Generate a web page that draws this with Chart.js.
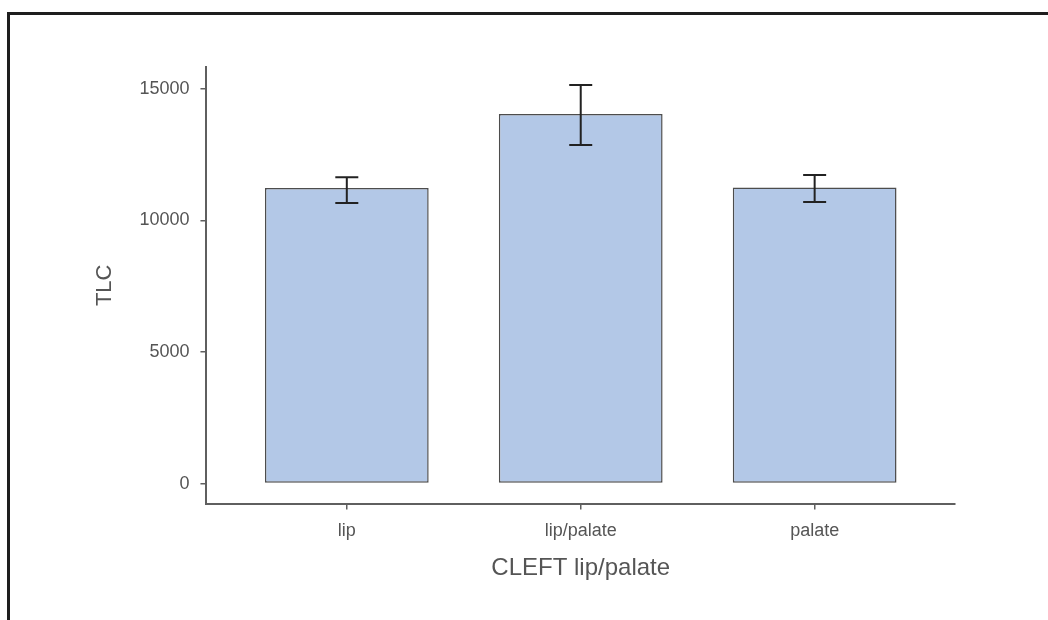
<!DOCTYPE html>
<html>
<head>
<meta charset="utf-8">
<script src="https://cdn.jsdelivr.net/npm/chart.js@4.4.1/dist/chart.umd.min.js"></script>
<style>
  html, body { margin: 0; padding: 0; background: #ffffff; }
  #wrap { position: relative; width: 1048px; height: 620px; }
  #frame { position: absolute; left: 7px; top: 12px; right: 0; bottom: 0;
           border-top: 3px solid #1e1e1e; border-left: 3px solid #1e1e1e; pointer-events: none; }
  canvas { position: absolute; left: 0; top: 0; }
</style>
</head>
<body>
<div id="wrap">
  <canvas id="chart" width="1048" height="620"></canvas>
  <div id="frame"></div>
</div>
<script>
// Mean TLC per cleft type, with the lower / upper ends of each error bar
const categories = ['lip', 'lip/palate', 'palate'];
const meanTLC = [11230, 14040, 11250];
const errLow = [10660, 12870, 10700];
const errHigh = [11640, 15150, 11730];
const yTicks = [0, 5000, 10000, 15000];

const axisColor = '#5f5f5f';
const textColor = '#555555';
const fontFamily = '"Liberation Sans", Arial, sans-serif';

// Whiskers with caps, drawn over the bars from errLow / errHigh
const errorBars = {
  id: 'errorBars',
  afterDatasetsDraw(chart) {
    const { ctx, scales: { x, y } } = chart;
    const cap = 11.5;
    ctx.save();
    ctx.strokeStyle = '#222222';
    ctx.lineWidth = 2;
    categories.forEach((c, i) => {
      const px = x.getPixelForValue(i);
      const top = y.getPixelForValue(errHigh[i]);
      const bot = y.getPixelForValue(errLow[i]);
      ctx.beginPath();
      ctx.moveTo(px, top); ctx.lineTo(px, bot);
      ctx.moveTo(px - cap, top); ctx.lineTo(px + cap, top);
      ctx.moveTo(px - cap, bot); ctx.lineTo(px + cap, bot);
      ctx.stroke();
    });
    ctx.restore();
  }
};

new Chart(document.getElementById('chart'), {
  type: 'bar',
  data: {
    datasets: [{
      label: 'TLC',
      data: meanTLC.map((v, i) => ({ x: i, y: v })),
      backgroundColor: '#b3c8e7',
      borderColor: '#4d4d4d',
      borderWidth: 1.5,
      borderSkipped: false,
      barPercentage: 0.7,
      categoryPercentage: 1.0
    }]
  },
  options: {
    responsive: false,
    animation: false,
    layout: { padding: { top: 67, right: 93, bottom: 29, left: 92 } },
    plugins: { legend: { display: false }, tooltip: { enabled: false } },
    scales: {
      x: {
        type: 'linear',
        offset: false,
        min: -0.6,
        max: 2.6,
        afterBuildTicks(scale) { scale.ticks = categories.map((c, i) => ({ value: i })); },
        ticks: {
          color: textColor,
          font: { family: fontFamily, size: 18 },
          padding: 11,
          maxRotation: 0,
          callback: (v) => categories[v]
        },
        grid: { offset: false, drawOnChartArea: false, drawTicks: true, tickLength: 6, color: axisColor, lineWidth: 1.5 },
        border: { display: true, color: axisColor, width: 2 },
        title: {
          display: true,
          text: 'CLEFT lip/palate',
          color: textColor,
          font: { family: fontFamily, size: 24 },
          padding: { top: 1, bottom: 8 }
        }
      },
      y: {
        min: -760,
        max: 15830,
        afterBuildTicks(scale) { scale.ticks = yTicks.map(v => ({ value: v })); },
        ticks: {
          color: textColor,
          font: { family: fontFamily, size: 18 },
          padding: 11,
          callback: (v) => String(v)
        },
        grid: { drawOnChartArea: false, drawTicks: true, tickLength: 6, color: axisColor, lineWidth: 1.5 },
        border: { display: true, color: axisColor, width: 2 },
        title: {
          display: true,
          text: 'TLC',
          color: textColor,
          font: { family: fontFamily, size: 22 },
          padding: { top: 0, bottom: 10 }
        }
      }
    }
  },
  plugins: [errorBars]
});
</script>
</body>
</html>
